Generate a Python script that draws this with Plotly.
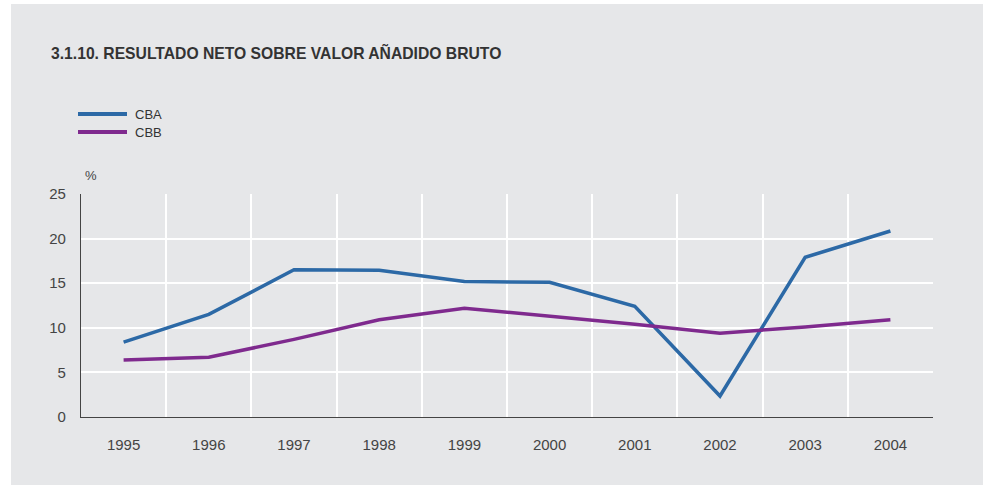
import plotly.graph_objects as go

years = ["1995", "1996", "1997", "1998", "1999", "2000", "2001", "2002", "2003", "2004"]
cba = [8.4, 11.5, 16.5, 16.45, 15.2, 15.1, 12.4, 2.35, 17.9, 20.85]
cbb = [6.4, 6.7, 8.7, 10.9, 12.2, 11.3, 10.4, 9.4, 10.1, 10.9]
series_names = ["CBA", "CBB"]
series_colors = ["#2c69a6", "#7f2a8e"]
title_text = "3.1.10. RESULTADO NETO SOBRE VALOR AÑADIDO BRUTO"
unit_text = "%"
y_ticks = [0, 5, 10, 15, 20, 25]

W, H = 983, 487
L, R, T, B = 81, 50, 194, 70
pw, ph = W - L - R, H - T - B

def px(x):
    return (x - L) / pw

def py(y):
    return (H - B - y) / ph

xs = list(range(len(years)))
fig = go.Figure()
for name, vals, col in zip(series_names, [cba, cbb], series_colors):
    fig.add_trace(go.Scatter(x=xs, y=vals, mode="lines", name=name,
                             line=dict(color=col, width=3.5), showlegend=False))

font_family = "Liberation Sans, Arial, sans-serif"
gray = "#e6e7e9"
shapes = [
    dict(type="rect", xref="paper", yref="paper", x0=px(11), x1=px(990), y0=py(485), y1=py(4),
         fillcolor=gray, line=dict(width=0), layer="below"),
]
annotations = [
    dict(text="<b>" + title_text + "</b>", xref="paper", yref="paper", x=px(49), y=py(52),
         xanchor="left", yanchor="middle", showarrow=False,
         font=dict(size=15.7, color="#333", family=font_family)),
    dict(text=unit_text, xref="paper", yref="paper", x=px(83), y=py(175),
         xanchor="left", yanchor="middle", showarrow=False,
         font=dict(size=13, color="#444", family=font_family)),
]
leg_y = [114, 132]
for name, col, yy in zip(series_names, series_colors, leg_y):
    shapes.append(dict(type="line", xref="paper", yref="paper", x0=px(78), x1=px(127),
                       y0=py(yy), y1=py(yy), line=dict(color=col, width=4)))
    annotations.append(dict(text=name, xref="paper", yref="paper", x=px(133), y=py(yy),
                            xanchor="left", yanchor="middle", showarrow=False,
                            font=dict(size=13, color="#333", family=font_family)))

fig.update_layout(
    width=W, height=H,
    margin=dict(l=L, r=R, t=T, b=B, pad=0),
    paper_bgcolor="white", plot_bgcolor=gray,
    shapes=shapes, annotations=annotations,
    font=dict(family=font_family, color="#444", size=15),
    xaxis=dict(range=[-0.5, len(years) - 0.5], tickmode="array", tickvals=xs, ticktext=years,
               showgrid=False, zeroline=False, showline=True, linecolor="#444", linewidth=1.2,
               ticks="", ticklabelstandoff=14,
               minor=dict(tickmode="array", tickvals=[i + 0.5 for i in xs], showgrid=True,
                          gridcolor="white", gridwidth=2, ticks="")),
    yaxis=dict(range=[0, 25], tickmode="array", tickvals=y_ticks, showgrid=True, gridcolor="white",
               gridwidth=2, zeroline=False, showline=True, linecolor="#444", linewidth=1.2,
               ticks="", ticklabelstandoff=11),
)
fig.write_html("out.html", config={"displayModeBar": False})

with open("out.html", "r", encoding="utf-8") as f:
    html = f.read()
html = html.replace("<head>", "<head><style>html,body{margin:0;padding:0;overflow:hidden;}</style>", 1)
with open("out.html", "w", encoding="utf-8") as f:
    f.write(html)
